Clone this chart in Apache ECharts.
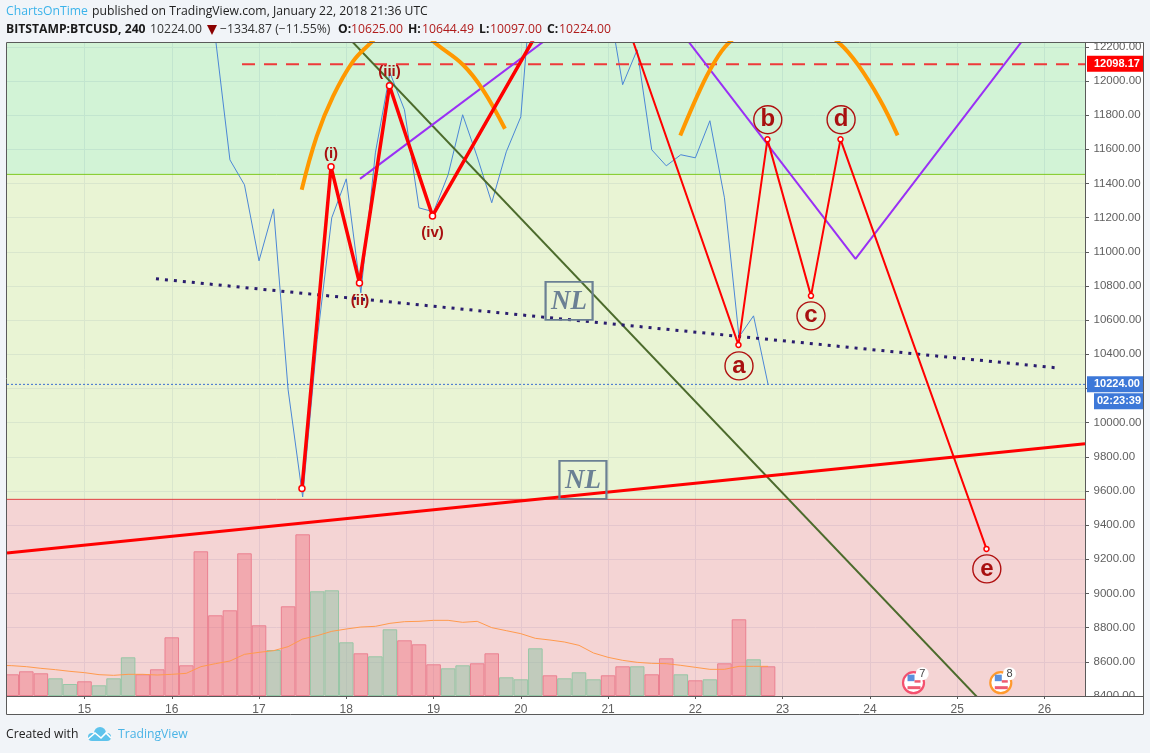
<!DOCTYPE html>
<html>
<head>
<meta charset="utf-8">
<title>BTCUSD</title>
<script src="https://cdn.jsdelivr.net/npm/echarts@6/dist/echarts.min.js"></script>
<style>
html,body{margin:0;padding:0;background:#f1f4f8;}
#c{width:1150px;height:753px;}
</style>
</head>
<body>
<div id="c"></div>
<script>
// ---------- axis ----------
const dayMin = 14.112, dayMax = 26.465;
const priceMin = 8400, priceMax = 12222;
const dayTicks = [15,16,17,18,19,20,21,22,23,24,25,26];
const priceTicks = [8400,8600,8800,9000,9200,9400,9600,9800,10000,10200,10400,10600,10800,11000,11200,11400,11600,11800,12000,12200];
const priceLabels = [8400,8600,8800,9000,9200,9400,9600,9800,10000,10400,10600,10800,11000,11200,11400,11600,11800,12000,12200];
const volumeAxisMax = 19590;

// ---------- 4h bars (first bar 14 Jan 04:00, one every 4h) ----------
const barStep = 1/6, firstBarDay = 14 + barStep;
const closes = [null,null,null,null,null,null,null,null,null,null,null,null,null,null,12253,
 11538,11392,10947,11251,10192,9565,10485,11199,11427,10760,11579,12048,11831,11257,11234,
 11451,11802,11556,11287,11585,11790,12850,12950,12800,12900,12750,12480,11978,12182,11597,
 11503,11568,11550,11767,11316,10502,10625,10224];
const volumes = [651,741,681,531,360,441,321,531,1161,651,801,1761,921,4341,2421,2571,4281,2121,1380,2691,
 4851,3141,3171,1611,1281,1191,2001,1671,1551,951,831,921,981,1281,561,501,1431,621,531,711,
 501,621,891,891,651,1131,651,471,501,981,2301,1101,891];
const volumeUp = [0,0,0,1,1,0,1,1,1,0,0,0,0,0,0,0,0,0,1,0,0,1,1,1,0,1,1,0,0,0,1,1,0,0,1,1,1,0,1,1,1,0,0,1,0,0,1,0,1,0,0,1,0];
const volumeMA = [910,880,830,790,740,700,640,620,650,650,630,650,680,880,970,1050,1250,1310,1360,1480,
 1710,1810,1940,2010,2070,2090,2180,2230,2240,2270,2270,2210,2240,2050,1960,1870,1730,1680,1620,1520,
 1290,1160,1070,1010,980,970,920,860,800,800,890,890,890];
const volumeMAPrev = [14.0, 920];

// ---------- background zones ----------
const zoneEdges = [12222, 11453, 9551, 8400];
const zoneFills = ['rgba(195,239,200,0.75)','rgba(226,240,198,0.75)','rgba(240,198,198,0.75)'];
const zoneLineColors = ['#7fc91f','#e04040'];

// ---------- drawings, [day, price] ----------
const waveImpulse = [[17.492,9615],[17.825,11497],[18.151,10818],[18.495,11972],[18.988,11210],[20.85,12873]];
const waveCorrective = [[20.85,12873],[22.494,10455],[22.826,11658],[23.325,10742],[23.663,11658],[25.336,9261]];
const arcLeft = [[17.489,11363],[17.661,11675],[17.848,11909],[18.077,12114],[18.271,12218],[18.50,12329],[18.649,12358],[18.844,12311],[19.016,12223],[19.337,12095],[19.566,11948],[19.818,11720]];
const arcRight = [[21.827,11681],[22.053,11948],[22.202,12095],[22.374,12218],[22.626,12311],[23.027,12370],[23.371,12323],[23.657,12218],[23.863,12095],[24.115,11890],[24.318,11681]];
const purplePath = [[18.157,11427],[21.315,12633],[23.835,10959],[26.063,12446]];
const greenTrend = [[17.928,12305],[25.49,8254]];
const dottedTrend = [[15.819,10842],[26.132,10321]];
const redTrend = [[14.112,9237],[26.465,9876]];
const resistance = [[16.805,12098.17],[26.465,12098.17]];
const lastPriceLine = [[14.112,10224],[26.465,10224]];
const neckBoxes = [[20.553,10713],[20.712,9665]];
const neckText = 'NL';
const waveLabels = [[17.825,11579,'(i)'],[18.157,10719,'(ii)'],[18.495,12059,'(iii)'],[18.988,11117,'(iv)']];
const circledLabels = [[22.50,10332,'a'],[22.83,11773,'b'],[23.325,10625,'c'],[23.67,11773,'d'],[25.34,9144,'e']];
const events = [[24.50,8478,7,'#f4506e'],[25.50,8478,8,'#ff9a2e']];

// ---------- texts ----------
const authorText = 'ChartsOnTime';
const publishText = 'published on TradingView.com, January 22, 2018 21:36 UTC';
const symbolText = 'BITSTAMP:BTCUSD, 240';
const lastText = '10224.00';
const changeText = '\u22121334.87 (\u221211.55%)';
const ohlc = [['O:','10625.00'],['H:','10644.49'],['L:','10097.00'],['C:','10224.00']];
const countdownText = '02:23:39';
const createdText = 'Created with';
const brandText = 'TradingView';

const headFont = '"Open Sans"';
const axisFont = '"Liberation Sans"';
const darkRed = '#a81010';
const pageBg = '#f1f4f8';

const barDays = volumes.map((_, i) => firstBarDay + i * barStep);

const T = (s, x, y, color, weight, size) => ({
  type:'text', x, y, z:120,
  style:{text:s, fill:color, font:`${weight||'normal'} ${size||12.2}px ${headFont}`, textVerticalAlign:'middle'}
});

const cloud = '#5ec3ec';
const graphics = [
  {type:'rect', z:-10, shape:{x:6,y:42,width:1138,height:673}, style:{fill:'#ffffff'}},
  {type:'rect', z:100, shape:{x:0,y:600,width:6.5,height:110}, style:{fill:pageBg}},
  {type:'rect', z:100, shape:{x:1087,y:30,width:57,height:12.5}, style:{fill:pageBg}},
  {type:'rect', z:100, shape:{x:1087,y:697,width:56,height:17}, style:{fill:'#ffffff'}},
  {type:'rect', z:101, shape:{x:6.5,y:42.5,width:1137,height:672}, style:{fill:'none',stroke:'#5a5a5a',lineWidth:1}},
  {type:'line', z:101, shape:{x1:1085.5,y1:43,x2:1085.5,y2:697}, style:{stroke:'#5a5a5a',lineWidth:1}},
  {type:'line', z:101, shape:{x1:7,y1:696.5,x2:1143,y2:696.5}, style:{stroke:'#5a5a5a',lineWidth:1}},
  T(authorText, 6, 12, '#3bb3ea'),
  T(publishText, 92, 12, '#222222'),
  T(symbolText, 6, 30, '#1a1a1a', 'bold'),
  T(lastText, 150, 30, '#333333'),
  {type:'polygon', z:120, shape:{points:[[207,25],[217,25],[212,35]]}, style:{fill:'#8b0000'}},
  T(changeText, 220, 30, '#333333'),
  T(ohlc[0][0], 338, 30, '#1a1a1a','bold'),
  T(ohlc[0][1], 351, 30, '#b01c1c'),
  T(ohlc[1][0], 408, 30, '#1a1a1a','bold'),
  T(ohlc[1][1], 422, 30, '#b01c1c'),
  T(ohlc[2][0], 479, 30, '#1a1a1a','bold'),
  T(ohlc[2][1], 490, 30, '#b01c1c'),
  T(ohlc[3][0], 547, 30, '#1a1a1a','bold'),
  T(ohlc[3][1], 559, 30, '#b01c1c'),
  T(createdText, 6, 735, '#222222'),
  {type:'circle', z:120, shape:{cx:92,cy:737,r:4}, style:{fill:cloud}},
  {type:'circle', z:120, shape:{cx:100,cy:733,r:6}, style:{fill:cloud}},
  {type:'circle', z:120, shape:{cx:107,cy:737,r:4}, style:{fill:cloud}},
  {type:'rect', z:120, shape:{x:92,y:735,width:15,height:6}, style:{fill:cloud}},
  {type:'polyline', z:121, shape:{points:[[88,739],[95,733],[101,738],[106,733],[111,738]]}, style:{stroke:'#ffffff',lineWidth:1.6,fill:'none'}},
  T(brandText, 118, 735, '#4ab4e6')
];

const plainLine = (data, color, width, extra) => Object.assign({
  type:'line', data, symbol:'none', z:4, silent:true, animation:false,
  lineStyle:{color, width}
}, extra || {});

const tag = (val, text, bg, off, w, pad) => ({
  type:'scatter', data:[[dayMax,val]], symbolSize:0, z:60, silent:true, animation:false, clip:false,
  itemStyle:{opacity:1},
  label:{show:true, position:'right', distance:2, offset:off, formatter:text, color:'#fff', opacity:1,
    fontFamily:axisFont, fontWeight:'bold', fontSize:11, backgroundColor:bg, padding:[0,0,0,pad],
    width:w, height:16, lineHeight:17, align:'left', verticalAlign:'middle'}
});

const option = {
  animation:false,
  backgroundColor:'transparent',
  graphic:{elements:graphics},
  grid:{left:7, top:43, right:65, bottom:57, containLabel:false},
  xAxis:{
    type:'value', min:dayMin, max:dayMax,
    axisLine:{show:false},
    axisTick:{show:true, length:3, customValues:dayTicks, lineStyle:{color:'#5a5a5a'}},
    axisLabel:{show:true, customValues:dayTicks, formatter:v=>String(Math.round(v)), color:'#5f5f5f', fontFamily:axisFont, fontSize:12, margin:8},
    splitLine:{show:true, lineStyle:{color:'#bfc7e3', width:1}}
  },
  yAxis:[{
    type:'value', position:'right', min:priceMin, max:priceMax,
    axisLine:{show:false},
    axisTick:{show:true, length:4, customValues:priceTicks, lineStyle:{color:'#5a5a5a'}},
    axisLabel:{show:true, customValues:priceLabels, formatter:v=>v.toFixed(2), color:'#5f5f5f', fontFamily:axisFont, fontSize:11.5, margin:8.5, padding:[2,0,0,0]},
    splitLine:{show:true, lineStyle:{color:'#bfc7e3', width:1}}
  },{
    type:'value', min:0, max:volumeAxisMax, show:false, splitLine:{show:false}
  }],
  series:[
    {
      type:'line', data:[], z:1, silent:true, animation:false,
      markArea:{silent:true, animation:false, data:zoneFills.map((c,i)=>[
        {yAxis:zoneEdges[i], xAxis:dayMin, itemStyle:{color:c}},
        {yAxis:zoneEdges[i+1], xAxis:dayMax}
      ])}
    },
    plainLine([[dayMin,zoneEdges[1]],[dayMax,zoneEdges[1]]], zoneLineColors[0], 1, {z:2}),
    plainLine([[dayMin,zoneEdges[2]],[dayMax,zoneEdges[2]]], zoneLineColors[1], 1, {z:2}),
    {
      type:'bar', yAxisIndex:1, barWidth:14.55, z:2, silent:true, animation:false, clip:true,
      data:volumes.map((v,i)=>({
        value:[barDays[i], v],
        itemStyle: volumeUp[i]
          ? {color:'rgba(142,194,164,0.5)', borderColor:'#97c6a6', borderWidth:1}
          : {color:'rgba(238,89,106,0.35)', borderColor:'#ea8090', borderWidth:1}
      }))
    },
    plainLine([volumeMAPrev].concat(volumeMA.map((v,i)=>[barDays[i],v])), '#ff9a4d', 1, {yAxisIndex:1, z:3}),
    plainLine(closes.map((v,i)=>[barDays[i],v]), '#4b86d6', 1, {z:3, connectNulls:false}),
    plainLine(lastPriceLine, '#3b6fd0', 1, {lineStyle:{color:'#3b6fd0',width:1,type:[2,2]}}),
    plainLine(resistance, '#ee3a3a', 2, {lineStyle:{color:'#ee3a3a',width:2,type:[13,9]}}),
    plainLine(greenTrend, '#4c6b2c', 2),
    plainLine(redTrend, '#ff0000', 3, {z:5}),
    plainLine(dottedTrend, '#2a1c6e', 3, {lineStyle:{color:'#2a1c6e',width:3,type:[3,6]}}),
    plainLine(purplePath, '#9a30f5', 2),
    plainLine(arcLeft, '#ff9800', 4, {smooth:0.4, z:5}),
    plainLine(arcRight, '#ff9800', 4, {smooth:0.4, z:5}),
    {
      type:'line', data:waveCorrective, z:6, silent:true, animation:false,
      lineStyle:{color:'#ff0000',width:2},
      symbol:'circle', symbolSize:5, showSymbol:true, showAllSymbol:true,
      itemStyle:{color:'#ffffff',borderColor:'#ff0000',borderWidth:1.5}
    },
    {
      type:'line', data:waveImpulse, z:6, silent:true, animation:false,
      lineStyle:{color:'#ff0000',width:3.5},
      symbol:'circle', symbolSize:6, showSymbol:true, showAllSymbol:true,
      itemStyle:{color:'#ffffff',borderColor:'#ff0000',borderWidth:1.5}
    },
    {
      type:'scatter', data:waveLabels.map(d=>({value:[d[0],d[1]], name:d[2]})),
      symbolSize:0, z:7, silent:true, animation:false, itemStyle:{opacity:1},
      label:{show:true, position:'inside', opacity:1, formatter:p=>p.name, color:darkRed, fontFamily:axisFont, fontWeight:'bold', fontSize:15, offset:[0,1]}
    },
    {
      type:'scatter', data:circledLabels.map(d=>({value:[d[0],d[1]], name:d[2]})),
      symbol:'circle', symbolSize:28, z:7, silent:true, animation:false,
      itemStyle:{color:'rgba(0,0,0,0)', borderColor:'#b01010', borderWidth:1.4, opacity:1},
      label:{show:true, position:'inside', opacity:1, formatter:p=>p.name, color:darkRed, fontFamily:axisFont, fontWeight:'bold', fontSize:24, offset:[0,0]}
    },
    {
      type:'scatter', data:neckBoxes, symbol:'rect', symbolSize:[47,38], z:7, silent:true, animation:false,
      itemStyle:{color:'rgba(0,0,0,0)', borderColor:'#6b8094', borderWidth:2, opacity:1},
      label:{show:true, position:'inside', opacity:1, formatter:neckText, color:'#6b8094', fontFamily:'"Liberation Serif"', fontStyle:'italic', fontWeight:'bold', fontSize:27, offset:[0,1]}
    },
    {
      type:'custom', data:events, z:8, silent:true, animation:false, clip:false,
      renderItem(params, api){
        const c = api.coord([api.value(0), api.value(1)]);
        const ring = events[params.dataIndex][3];
        const n = events[params.dataIndex][2];
        const x = c[0], y = c[1];
        return {type:'group', children:[
          {type:'circle', shape:{cx:x,cy:y,r:10.5}, style:{fill:'#ffffff',stroke:ring,lineWidth:2.2}},
          {type:'rect', shape:{x:x-6,y:y-8,width:7,height:6.5}, style:{fill:'#5b90dc'}},
          {type:'rect', shape:{x:x+1,y:y-2.5,width:6,height:2.5}, style:{fill:'#ef5a70'}},
          {type:'rect', shape:{x:x-6,y:y+3.5,width:13,height:3}, style:{fill:'#ef5a70'}},
          {type:'circle', shape:{cx:x+8.7,cy:y-9,r:6.5}, style:{fill:'#ffffff'}},
          {type:'text', x:x+8.7, y:y-9, style:{text:String(n), fill:'#444444', font:`11px ${axisFont}`, textAlign:'center', textVerticalAlign:'middle'}}
        ]};
      }
    },
    tag(12098.17, '12098.17', '#ff0000', [0,-0.5], 50, 7),
    tag(10224, lastText, '#3d78d8', [0,0], 50, 7),
    tag(10224, countdownText, '#3d78d8', [7,17], 47, 3)
  ]
};
const chart = echarts.init(document.getElementById('c'), null, {renderer:'canvas', width:1150, height:753});
chart.setOption(option);
</script>
</body>
</html>
